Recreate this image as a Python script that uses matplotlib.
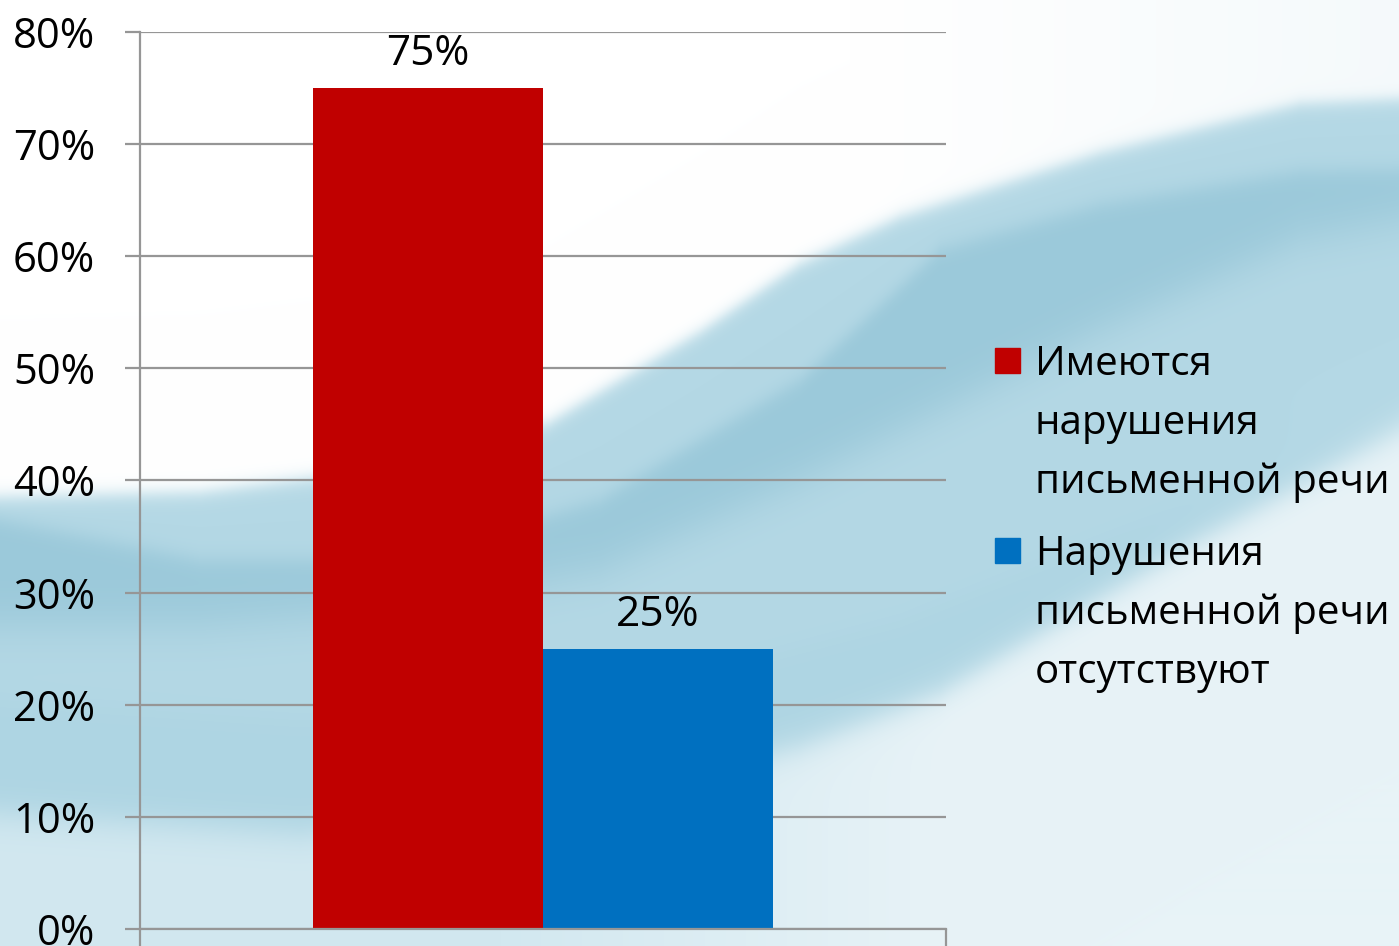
import numpy as np
import matplotlib
matplotlib.use("Agg")
import matplotlib.pyplot as plt
from matplotlib.patches import Rectangle

# ---- data ----
series_names = [["Имеются", "нарушения", "письменной речи"],
                ["Нарушения", "письменной речи", "отсутствуют"]]
values = [75, 25]
colors = ["#C00000", "#0070C0"]
yticks = [0, 10, 20, 30, 40, 50, 60, 70, 80]

W, H = 1399, 946
DPI = 100
plt.rcParams['font.family'] = ['Open Sans', 'DejaVu Sans']

fig = plt.figure(figsize=(W / DPI, H / DPI), dpi=DPI)

# ---- decorative background (slide waves) ----
xs = np.arange(W)
yy = np.arange(H)[:, None]


def curve(px, py):
    return np.interp(xs, px, py)[None, :]


def soft(c, s=8.0):
    # 1 below curve c (larger y), 0 above
    return 1.0 / (1.0 + np.exp(-(yy - c) / s))


img = np.zeros((H, W, 3))
img[:] = np.array([210, 232, 240]) / 255.0

def paint(mask, rgb):
    global img
    col = np.array(rgb) / 255.0
    img = img * (1 - mask[..., None]) + col * mask[..., None]

# main band
T = curve([0, 200, 400, 550, 700, 800, 900, 1100, 1300, 1399],
          [495, 490, 465, 420, 330, 262, 215, 150, 100, 95])
B = curve([0, 300, 600, 800, 940, 1200, 1399], [810, 830, 800, 750, 697, 540, 430])
paint(soft(T, 6) * (1 - soft(B, 10)), (180, 216, 229))
# dark band
T2 = curve([0, 200, 400, 600, 800, 940, 1100, 1300, 1399],
           [520, 560, 560, 500, 380, 250, 205, 172, 170])
B2 = curve([0, 200, 400, 600, 800, 940, 1100, 1300, 1399],
           [625, 625, 610, 570, 480, 410, 330, 240, 220])
paint(soft(T2, 6) * (1 - soft(B2, 14)), (155, 201, 218))
# lighter strip and lower medium
T3 = curve([0, 300, 600, 900, 1399], [700, 720, 700, 620, 420])
B3 = curve([0, 300, 600, 900, 1399], [800, 820, 790, 700, 460])
paint(soft(T3, 10) * (1 - soft(B3, 12)), (174, 213, 227))
# pale bottom right
paint(soft(B, 10) * np.clip((xs[None, :] - 500) / 450, 0, 1), (232, 243, 247))
# white region (top)
wt = 1 - soft(T, 5)
paint(wt, (255, 255, 255))
tint = wt * np.clip((xs[None, :] - 850) / 550, 0, 1) * 0.6
paint(tint, (238, 246, 249))

bg = fig.add_axes([0, 0, 1, 1], zorder=-10)
bg.imshow(img, aspect='auto', extent=[0, W, H, 0])
bg.axis('off')

# ---- main chart ----
left, right = 140 / W, 946 / W
bottom, top = 1 - 929 / H, 1 - 32 / H
ax = fig.add_axes([left, bottom, right - left, top - bottom])
ax.patch.set_alpha(0)

bw = 230 / 806
offsets = [-bw / 2, bw / 2]
for v, c, o in zip(values, colors, offsets):
    ax.bar(o, v, width=bw, color=c, zorder=3)
    ax.annotate(f"{v}%", (o, v), xytext=(0, 23 * 72 / DPI), textcoords='offset points',
                ha='center', va='baseline', fontsize=30.5, color='black', zorder=4,
                annotation_clip=False)

ax.set_xlim(-0.5, 0.5)
ax.set_ylim(0, 80)
ax.set_yticks(yticks)
ax.set_yticklabels([f"{t}%" for t in yticks], fontsize=30)
ax.set_xticks([-0.5, 0.5])
ax.set_xticklabels([])
grid_c = "#969696"
ax.yaxis.grid(True, color=grid_c, linewidth=1.6, zorder=1)
ax.set_axisbelow(True)
ax.tick_params(axis='y', direction='out', length=15 * 72 / DPI, width=1.6, color=grid_c, pad=30 * 72 / DPI)
ax.tick_params(axis='x', direction='out', length=17 * 72 / DPI, width=1.6, color=grid_c)
for s in ['top', 'right']:
    ax.spines[s].set_visible(False)
for s in ['left', 'bottom']:
    ax.spines[s].set_color(grid_c)
    ax.spines[s].set_linewidth(1.6)
    ax.spines[s].set_zorder(5)

# ---- legend (drawn manually to align marker with the first line) ----
line_h = 59
entry_tops = [360, 550]
for names, c, y0 in zip(series_names, colors, entry_tops):
    fig.patches.append(Rectangle(((995) / W, 1 - (y0 + 12.5) / H), 25 / W, 25 / H,
                                 transform=fig.transFigure, color=c))
    for i, line in enumerate(names):
        fig.text(1035 / W, 1 - (y0 + i * line_h) / H, line, fontsize=29,
                 ha='left', va='center_baseline', color='black')

fig.savefig("out.png", dpi=DPI)
